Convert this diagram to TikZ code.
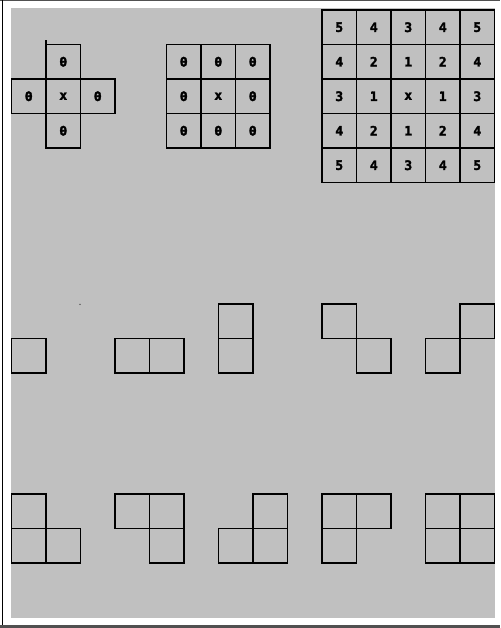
\documentclass[tikz,border=0pt]{standalone}
\usepackage{fontspec}
\newfontfamily\cellfont{DejaVu Sans Mono Bold}[FakeBold=2.5]
\definecolor{bg}{HTML}{C0C0C0}
\definecolor{frameline}{HTML}{505050}
\begin{document}
\begin{tikzpicture}[x=1pt,y=-1pt,
  cell/.style={draw=black, line width=1.6pt, minimum size=34.5pt, inner sep=0pt, outer sep=0pt,
    font=\cellfont\fontsize{13}{13}\selectfont, text=black}]
\useasboundingbox (0,0) rectangle (500,628);
\fill[white] (0,0) rectangle (500,628);
\fill[bg] (11,8) rectangle (495,618);
\draw[line width=1.4pt, frameline] (0,0.7) -- (500,0.7);
\draw[line width=1.6pt, black] (2.6,0) -- (2.6,624.5);
\draw[line width=2.6pt, frameline] (0,626.5) -- (500,626.5);

% cross
\node[cell] (cT) at (63.25,61.75) {0};
\node[cell] (cL) at (28.75,96.25) {0};
\node[cell] (cC) at (63.25,96.25) {x};
\node[cell] (cR) at (97.75,96.25) {0};
\node[cell] (cB) at (63.25,130.75) {0};
\draw[line width=1.6pt] (cT.north west) -- ++(0,-4);

% 3x3
\foreach \r/\y/\row in {1/61.75/{0,0,0},2/96.25/{0,x,0},3/130.75/{0,0,0}}{
  \foreach \v [count=\c] in \row {
    \node[cell] (g\r\c) at (149.25+\c*34.5,\y) {\v};
  }
}

% 5x5
\foreach \r/\y/\row in {1/27.25/{5,4,3,4,5},2/61.75/{4,2,1,2,4},3/96.25/{3,1,x,1,3},4/130.75/{4,2,1,2,4},5/165.25/{5,4,3,4,5}}{
  \foreach \v [count=\c] in \row {
    \node[cell] (d\r\c) at (304.75+\c*34.5,\y) {\v};
  }
}

% stray dot
\fill[black!70] (80,304.3) circle (0.8);

% row 2 shapes
\foreach \n/\x/\y in {p1/28.75/355.75,
  p2a/132.25/355.75, p2b/166.75/355.75,
  p3a/235.75/321.25, p3b/235.75/355.75,
  p4a/339.25/321.25, p4b/373.75/355.75,
  p5a/442.75/355.75, p5b/477.25/321.25}{
  \node[cell] (\n) at (\x,\y) {};
}

% row 3 shapes
\foreach \n/\x/\y in {q1a/28.75/511.25, q1b/28.75/545.75, q1c/63.25/545.75,
  q2a/132.25/511.25, q2b/166.75/511.25, q2c/166.75/545.75,
  q3a/270.25/511.25, q3b/270.25/545.75, q3c/235.75/545.75,
  q4a/339.25/511.25, q4b/373.75/511.25, q4c/339.25/545.75,
  q5a/442.75/511.25, q5b/477.25/511.25, q5c/442.75/545.75, q5d/477.25/545.75}{
  \node[cell] (\n) at (\x,\y) {};
}
\end{tikzpicture}
\end{document}
